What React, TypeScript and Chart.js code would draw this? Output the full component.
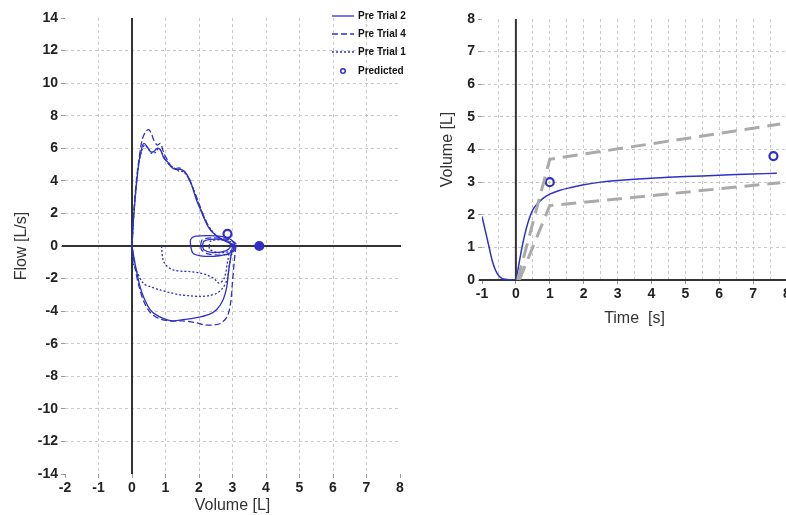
import React, { useEffect, useRef } from 'react';
import { Chart, registerables } from 'chart.js';
Chart.register(...registerables);

const BLUE = '#3030c8';
const GRAY = '#aaaaaa';

// ---------- Flow-volume (left) ----------
const flowXTicks = { min: -2, max: 8, step: 1 };
const flowYTicks = { min: -14, max: 14, step: 2 };

const trial2Exp = [[0,0],[0.04,1.5],[0.09,2.8],[0.19,4.9],[0.29,6.0],[0.36,6.3],[0.45,6.1],[0.55,5.8],[0.65,5.8],[0.75,6.0],[0.85,5.9],[0.95,5.4],[1.05,5.2],[1.15,4.9],[1.3,4.7],[1.45,4.7],[1.58,4.55],[1.73,4.05],[1.85,3.3],[1.93,2.8],[2.03,2.3],[2.13,1.8],[2.23,1.35],[2.33,1.0],[2.45,0.75],[2.58,0.55],[2.7,0.4],[2.85,0.25],[3.0,0.08],[3.05,0]];
const trial2Insp = [[3.0,0],[2.95,-0.65],[2.88,-1.6],[2.83,-2.5],[2.72,-3.3],[2.53,-3.9],[2.3,-4.2],[1.93,-4.4],[1.43,-4.55],[1.2,-4.6],[0.93,-4.45],[0.7,-4.2],[0.54,-3.9],[0.38,-3.3],[0.24,-2.5],[0.09,-1.06],[0,0]];
const trial2LoopA = [[1.75,0.0],[1.75,0.4],[1.9,0.6],[2.3,0.64],[2.7,0.57],[2.97,0.37],[3.07,0.0],[2.97,-0.37],[2.6,-0.6],[2.1,-0.62],[1.82,-0.45],[1.75,0]];
const trial2LoopB = [[2.1,0],[2.15,0.3],[2.5,0.42],[2.85,0.3],[2.95,0],[2.8,-0.3],[2.4,-0.4],[2.15,-0.25],[2.1,0]];

const trial4Exp = [[0,0],[0.05,2],[0.12,3.8],[0.2,5.2],[0.3,6.5],[0.4,7.0],[0.5,7.15],[0.58,6.9],[0.65,6.5],[0.75,6.2],[0.85,6.3],[0.95,5.7],[1.05,5.3],[1.15,4.95],[1.28,4.75],[1.4,4.8],[1.55,4.6],[1.7,4.1],[1.85,3.4],[2.0,2.6],[2.15,1.8],[2.3,1.15],[2.45,0.75],[2.6,0.5],[2.8,0.3],[3.0,0.1],[3.1,0]];
const trial4Insp = [[3.1,0],[3.05,-1.0],[3.0,-2.2],[2.95,-3.4],[2.85,-4.3],[2.65,-4.75],[2.4,-4.85],[2.15,-4.85],[1.9,-4.7],[1.5,-4.6],[1.1,-4.6],[0.8,-4.45],[0.55,-4.1],[0.35,-3.4],[0.2,-2.4],[0.08,-1.2],[0,0]];
const trial4Loop = [[2.05,0.05],[2.1,0.4],[2.45,0.5],[2.85,0.4],[3.1,0.15],[3.05,-0.3],[2.75,-0.55],[2.3,-0.5],[2.08,-0.25],[2.05,0.05]];

const trial1Exp = [[0,0],[0.05,1.8],[0.12,3.6],[0.2,5.0],[0.3,5.9],[0.38,6.2],[0.48,6.0],[0.58,5.7],[0.7,5.75],[0.8,6.0],[0.9,5.7],[1.0,5.3],[1.1,5.0],[1.25,4.8],[1.4,4.6],[1.55,4.55],[1.7,4.1],[1.85,3.4],[1.95,2.8],[2.1,2.0],[2.25,1.35],[2.4,0.9],[2.55,0.6],[2.7,0.4],[2.9,0.2],[3.05,0]];
const trial1Insp = [[3.05,0],[2.95,-0.65],[2.83,-2.1],[2.7,-2.6],[2.53,-2.9],[2.3,-3.05],[2.03,-3.1],[1.7,-3.05],[1.43,-3.0],[1.1,-2.85],[0.84,-2.7],[0.55,-2.5],[0.34,-2.3],[0.15,-1.6],[0.04,-1.07],[0,0]];
const trial1Partial = [[0.88,0],[0.93,-0.86],[1.05,-1.25],[1.23,-1.47],[1.5,-1.55],[1.73,-1.57],[2.0,-1.65],[2.23,-1.77],[2.45,-2.0],[2.6,-2.28],[2.75,-2.0],[2.85,-1.0],[2.9,-0.4]];
const trial1Loop = [[2.3,0],[2.35,0.3],[2.65,0.38],[2.95,0.25],[3.05,-0.05],[2.9,-0.35],[2.55,-0.4],[2.32,-0.2],[2.3,0]];

const predictedFlow = [[2.85,0.75],[3.8,0]];

const legendLabels = ['Pre Trial 2', 'Pre Trial 4', 'Pre Trial 1', 'Predicted'];

// ---------- Volume-time (right) ----------
const timeTicks = { min: -1, max: 8, step: 0.5 };
const volTicks = { min: 0, max: 8, step: 1 };
const volumeCurve = [[-1,1.95],[-0.9,1.5],[-0.8,1.05],[-0.7,0.6],[-0.6,0.3],[-0.5,0.12],[-0.4,0.04],[-0.3,0.02],[-0.2,0.01],[-0.1,0.005],[0,0],[0.05,0.25],[0.1,0.55],[0.2,1.1],[0.3,1.55],[0.4,1.9],[0.5,2.15],[0.6,2.3],[0.8,2.5],[1.0,2.63],[1.3,2.75],[1.6,2.83],[2.0,2.92],[2.5,3.0],[3,3.05],[4,3.12],[5,3.17],[6,3.21],[7,3.25],[7.7,3.27]];
const upperLimit = [[0.05,0],[1,3.7],[7.8,4.78]];
const lowerLimit = [[0.1,0],[1,2.28],[7.8,2.98]];
const predictedVol = [[1,3.0],[7.6,3.8]];

const pts = (a: number[][]) => a.map(([x, y]) => ({ x, y }));

const lineDs = (data: number[][], dash: number[], color = BLUE, width = 1.3, tension = 0.3) => ({
  data: pts(data),
  showLine: true,
  borderColor: color,
  backgroundColor: color,
  borderWidth: width,
  borderDash: dash,
  pointRadius: 0,
  tension,
});

const predDs = (data: number[][], filled: boolean[] = []) => ({
  data: pts(data),
  showLine: false,
  borderColor: BLUE,
  pointBackgroundColor: data.map((_, i) => (filled[i] ? BLUE : 'rgba(0,0,0,0)')),
  pointRadius: 4,
  pointBorderWidth: 2.2,
  pointStyle: 'circle',
});

const tickFont = { family: 'Arial', size: 14, weight: 'bold' as const };
const titleFont = { family: 'Arial', size: 16 };

const gridColor = (ctx: any) => {
  const s = ctx.scale;
  const v = ctx.tick ? ctx.tick.value : null;
  if (v === null || v === s.min || v === s.max || v === 0) return 'rgba(0,0,0,0)';
  return '#c8c8c8';
};

const zeroLines = {
  id: 'zeroLines',
  beforeDatasetsDraw(chart: any) {
    const { ctx, chartArea, scales } = chart;
    const x0 = scales.x.getPixelForValue(0);
    const y0 = scales.y.getPixelForValue(0);
    ctx.save();
    ctx.strokeStyle = '#333';
    ctx.lineWidth = 2;
    ctx.beginPath();
    ctx.moveTo(x0, chartArea.top);
    ctx.lineTo(x0, chartArea.bottom);
    ctx.moveTo(chartArea.left - 3, y0);
    ctx.lineTo(chartArea.right + 1, y0);
    ctx.stroke();
    ctx.restore();
  },
};

const flowLegend = {
  id: 'flowLegend',
  afterDraw(chart: any) {
    const { ctx } = chart;
    const x1 = 332, x2 = 354, tx = 358;
    const ys = [16, 34, 52, 71];
    const dashes = [[], [6, 3], [2, 2]];
    ctx.save();
    ctx.font = 'bold 10px Arial';
    ctx.textBaseline = 'middle';
    ctx.textAlign = 'left';
    legendLabels.forEach((lab, i) => {
      const y = ys[i];
      ctx.strokeStyle = BLUE;
      if (i < 3) {
        ctx.setLineDash(dashes[i]);
        ctx.lineWidth = 1.3;
        ctx.beginPath();
        ctx.moveTo(x1, y);
        ctx.lineTo(x2, y);
        ctx.stroke();
      } else {
        ctx.setLineDash([]);
        ctx.lineWidth = 1.5;
        ctx.beginPath();
        ctx.arc((x1 + x2) / 2, y, 2.3, 0, Math.PI * 2);
        ctx.stroke();
      }
      ctx.setLineDash([]);
      ctx.fillStyle = '#111';
      ctx.fillText(lab, tx, y);
    });
    ctx.restore();
  },
};

function FlowChart() {
  const ref = useRef<HTMLCanvasElement>(null);
  useEffect(() => {
    const chart = new Chart(ref.current!, {
      type: 'scatter',
      data: {
        datasets: [
          lineDs(trial2Exp, []), lineDs(trial2Insp, []), lineDs(trial2LoopA, []), lineDs(trial2LoopB, []),
          lineDs(trial4Exp, [6, 3]), lineDs(trial4Insp, [6, 3]), lineDs(trial4Loop, [6, 3]),
          lineDs(trial1Exp, [2, 2]), lineDs(trial1Insp, [2, 2]), lineDs(trial1Partial, [2, 2]), lineDs(trial1Loop, [2, 2]),
          predDs(predictedFlow, [false, true]),
        ] as any,
      },
      options: {
        responsive: false,
        animation: false,
        layout: { padding: { left: 8, right: 10, top: 18, bottom: 0 } },
        plugins: { legend: { display: false }, tooltip: { enabled: false } },
        scales: {
          x: {
            type: 'linear', min: flowXTicks.min, max: flowXTicks.max,
            afterFit: (s: any) => { s.height = 41; },
            ticks: { stepSize: flowXTicks.step, autoSkip: false, font: tickFont, color: '#222', padding: 2, maxRotation: 0 },
            grid: { color: gridColor, tickColor: '#999', tickLength: 4, lineWidth: 1 },
            border: { display: false, dash: [3, 3] },
            title: { display: true, text: 'Volume [L]', font: titleFont, color: '#333', padding: { top: 2, bottom: 0 } },
          },
          y: {
            type: 'linear', min: flowYTicks.min, max: flowYTicks.max,
            afterFit: (s: any) => { s.width = 57; },
            ticks: { stepSize: flowYTicks.step, autoSkip: false, font: tickFont, color: '#222', padding: 3 },
            grid: { color: gridColor, tickColor: '#999', tickLength: 4, lineWidth: 1 },
            border: { display: false, dash: [3, 3] },
            title: { display: true, text: 'Flow [L/s]', font: titleFont, color: '#333', padding: { top: 4, bottom: 4 } },
          },
        },
      } as any,
      plugins: [zeroLines, flowLegend],
    });
    return () => chart.destroy();
  }, []);
  return <canvas ref={ref} width={410} height={515} style={{ position: 'absolute', left: 0, top: 0, width: 410, height: 515 }} />;
}

function VolumeChart() {
  const ref = useRef<HTMLCanvasElement>(null);
  useEffect(() => {
    const chart = new Chart(ref.current!, {
      type: 'scatter',
      data: {
        datasets: [
          lineDs(upperLimit, [15, 8], GRAY, 3, 0),
          lineDs(lowerLimit, [15, 8], GRAY, 3, 0),
          lineDs(volumeCurve, [], BLUE, 1.5, 0.3),
          predDs(predictedVol),
        ] as any,
      },
      options: {
        responsive: false,
        animation: false,
        layout: { padding: { left: 4, right: 10, top: 19, bottom: 0 } },
        plugins: { legend: { display: false }, tooltip: { enabled: false } },
        scales: {
          x: {
            type: 'linear', min: timeTicks.min, max: timeTicks.max,
            afterFit: (s: any) => { s.height = 48; },
            ticks: {
              stepSize: timeTicks.step, autoSkip: false, font: tickFont, color: '#222', padding: 2, maxRotation: 0,
              callback: (v: any) => (Number.isInteger(Number(v)) ? String(v) : ''),
            },
            grid: {
              color: gridColor, lineWidth: 1, tickLength: 4,
              tickColor: (c: any) => (c.tick && Number.isInteger(c.tick.value) ? '#999' : 'rgba(0,0,0,0)'),
            },
            border: { display: false, dash: [3, 3] },
            title: { display: true, text: 'Time  [s]', font: titleFont, color: '#333', padding: { top: 2, bottom: 0 } },
          },
          y: {
            type: 'linear', min: volTicks.min, max: volTicks.max,
            afterFit: (s: any) => { s.width = 48; },
            ticks: { stepSize: volTicks.step, autoSkip: false, font: tickFont, color: '#222', padding: 3 },
            grid: { color: gridColor, tickColor: '#999', tickLength: 4, lineWidth: 1 },
            border: { display: false, dash: [3, 3] },
            title: { display: true, text: 'Volume [L]', font: titleFont, color: '#333', padding: { top: 4, bottom: 4 } },
          },
        },
      } as any,
      plugins: [zeroLines],
    });
    return () => chart.destroy();
  }, []);
  return (
    <div style={{ position: 'absolute', left: 430, top: 0, width: 356, height: 340, overflow: 'hidden' }}>
      <canvas ref={ref} width={367} height={328} style={{ position: 'absolute', left: 0, top: 0, width: 367, height: 328 }} />
    </div>
  );
}

export default function App() {
  return (
    <div style={{ position: 'fixed', left: 0, top: 0, width: 786, height: 515, overflow: 'hidden', background: '#fff' }}>
      <FlowChart />
      <VolumeChart />
    </div>
  );
}
